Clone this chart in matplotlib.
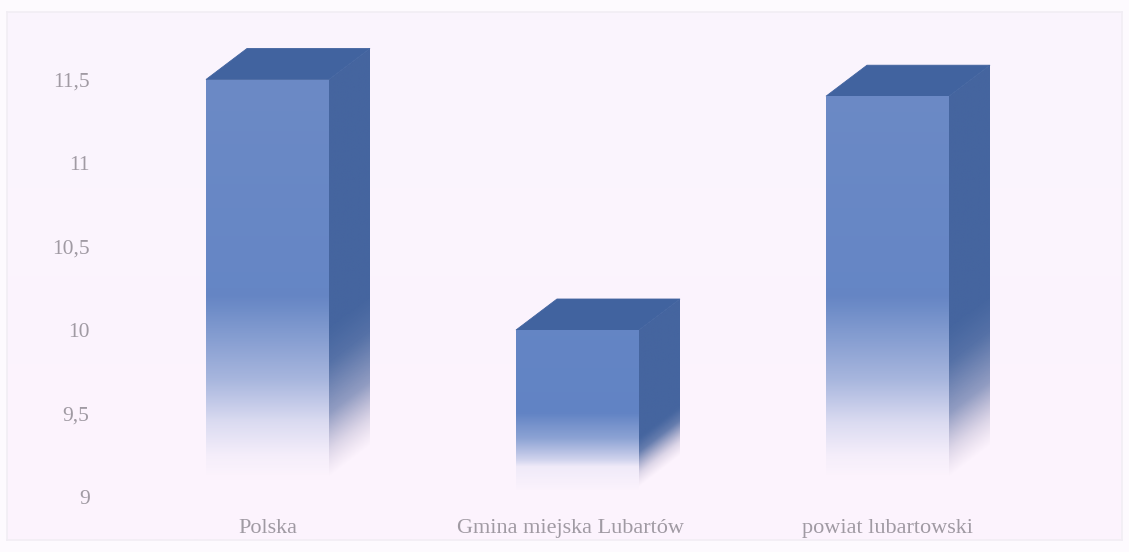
import numpy as np
import matplotlib
matplotlib.use("Agg")
import matplotlib.pyplot as plt
from matplotlib.colors import to_rgb
from matplotlib.patches import Polygon
from matplotlib.transforms import ScaledTranslation

categories = ["Polska", "Gmina miejska Lubartów", "powiat lubartowski"]
values = [11.5, 10.0, 11.4]
yticks = [9, 9.5, 10, 10.5, 11, 11.5]
ytick_labels = ["9", "9,5", "10", "10,5", "11", "11,5"]

W, H = 1129, 552
BG_TOP, BG_BOT = "#faf5fe", "#fdf3fd"
FRONT_TOP, FRONT_BOT = "#6c8ac6", "#5f82c4"
SIDE = "#45659f"
SIDE_FADE = "#a08fb0"
TOP = "#41639f"
TEXT = "#a09aa3"
BASE = 9

# fade of each bar: (value, opacity) pairs, from the bottom upward
fades = [
    [(9.12, 0), (9.25, .05), (9.45, .22), (9.7, .55), (10.0, .82), (10.2, 1), (12, 1)],
    [(9.03, 0), (9.18, .08), (9.22, .28), (9.35, .72), (9.5, 1), (12, 1)],
    [(9.12, 0), (9.25, .05), (9.45, .22), (9.7, .55), (10.0, .82), (10.2, 1), (12, 1)],
]
side_fades = [
    [(9.12, 0), (9.28, .25), (9.5, .65), (9.8, .92), (10.0, 1), (12, 1)],
    [(9.06, 0), (9.14, .25), (9.27, .85), (9.35, 1), (12, 1)],
    [(9.12, 0), (9.28, .25), (9.5, .65), (9.8, .92), (10.0, 1), (12, 1)],
]

fig = plt.figure(figsize=(W / 100, H / 100), dpi=100, facecolor="#fdfafe")

# page background with its faint frame
bg = fig.add_axes([7 / W, 1 - 540 / H, 1115 / W, 528 / H], zorder=-1)
grad = np.linspace(0, 1, 256)[:, None, None]
bg.imshow(np.array(to_rgb(BG_TOP))[None, None, :] * (1 - grad) + np.array(to_rgb(BG_BOT))[None, None, :] * grad,
          aspect="auto")
bg.set_xticks([])
bg.set_yticks([])
for s in bg.spines.values():
    s.set_color("#f1edf4")
    s.set_linewidth(1.2)

# axes spans 100..1100 px horizontally and 30..497 px vertically
ax = fig.add_axes([100 / W, 1 - 497 / H, 1000 / W, 467 / H])
ax.patch.set_alpha(0)
px_x = 310.0
px_y = 167.0
xlim = ((100 - 267.5) / px_x, (1100 - 267.5) / px_x)
ylim = (BASE, BASE + 467 / px_y)
for s in ax.spines.values():
    s.set_visible(False)

xpos = np.arange(len(categories))
width = 123 / px_x
dx, dy = 41 / px_x, 31 / px_y
bars = ax.bar(xpos, [v - BASE for v in values], width=width, bottom=BASE, color="none", edgecolor="none")

ys = np.linspace(BASE, 12, 512)
for bar, v, fade, sfade in zip(bars, values, fades, side_fades):
    x0, x1 = bar.get_x(), bar.get_x() + bar.get_width()
    fy, fa = zip(*fade)
    sy, sa = zip(*sfade)
    # side face
    side = Polygon([(x1, BASE), (x1 + dx, BASE + dy), (x1 + dx, v + dy), (x1, v)],
                   facecolor="none", edgecolor="none")
    ax.add_patch(side)
    a = np.array([np.interp(ys - s * dy, sy, sa) for s in np.linspace(0, 1, 60)]).T
    rgb = (np.array(to_rgb(SIDE_FADE))[None, None, :] * (1 - a[:, :, None]) ** 1.5
           + np.array(to_rgb(SIDE))[None, None, :] * (1 - (1 - a[:, :, None]) ** 1.5))
    im = ax.imshow(np.dstack([rgb, a]), origin="lower", aspect="auto", interpolation="bilinear",
                   extent=(x1, x1 + dx, BASE, 12), zorder=2)
    im.set_clip_path(side)
    # top face
    ax.add_patch(Polygon([(x0, v), (x1, v), (x1 + dx, v + dy), (x0 + dx, v + dy)],
                         facecolor=TOP, edgecolor=TOP, lw=0.6, zorder=3))
    # front face
    t = np.clip((ys - BASE) / 2.5, 0, 1)[:, None]
    rgb = np.array(to_rgb(FRONT_BOT)) * (1 - t) + np.array(to_rgb(FRONT_TOP)) * t
    img = np.concatenate([rgb, np.interp(ys, fy, fa)[:, None]], axis=1)[:, None, :]
    im = ax.imshow(img, origin="lower", aspect="auto", interpolation="bilinear",
                   extent=(x0, x1, BASE, 12), zorder=4)
    im.set_clip_path(bar)

ax.set_xlim(*xlim)
ax.set_ylim(*ylim)
ax.set_xticks(xpos, categories, family="Liberation Serif", fontsize=16, color=TEXT)
ax.set_yticks(yticks, ytick_labels, family="Liberation Serif", fontsize=15.5, color=TEXT)
ax.tick_params(axis="both", length=0)
ax.tick_params(axis="x", pad=15.5)
ax.tick_params(axis="y", pad=7.5)
# the middle label sits a little left of its bar in the reference
lab = ax.get_xticklabels()[1]
lab.set_transform(lab.get_transform() + ScaledTranslation(-7 / 100, 0, fig.dpi_scale_trans))

fig.savefig("out.png", dpi=100, facecolor=fig.get_facecolor())
